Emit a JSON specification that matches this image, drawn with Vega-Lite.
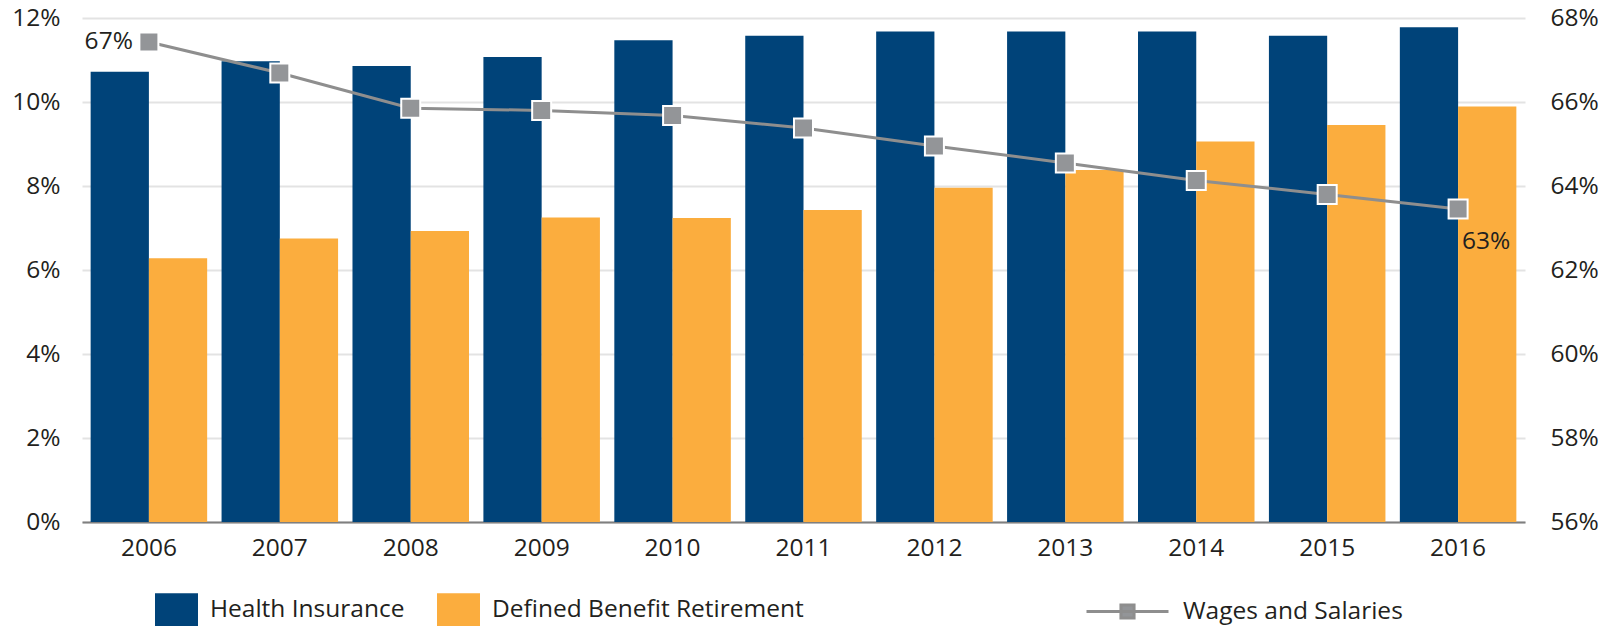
{
  "$schema": "https://vega.github.io/schema/vega-lite/v6.json",
  "width": 1443,
  "height": 504,
  "autosize": {"type": "none"},
  "padding": {"left": 82, "top": 18, "right": 94, "bottom": 104},
  "background": "white",
  "config": {
    "font": "Open Sans",
    "view": {"stroke": null},
    "axis": {"labelFont": "Open Sans", "labelFontSize": 24.5, "labelColor": "#231F20", "title": null}
  },
  "datasets": {
    "bars": [
      {"year": "2006", "series": "Health Insurance", "value": 10.72},
      {"year": "2006", "series": "Defined Benefit Retirement", "value": 6.28},
      {"year": "2007", "series": "Health Insurance", "value": 10.97},
      {"year": "2007", "series": "Defined Benefit Retirement", "value": 6.75},
      {"year": "2008", "series": "Health Insurance", "value": 10.86},
      {"year": "2008", "series": "Defined Benefit Retirement", "value": 6.93},
      {"year": "2009", "series": "Health Insurance", "value": 11.07},
      {"year": "2009", "series": "Defined Benefit Retirement", "value": 7.25},
      {"year": "2010", "series": "Health Insurance", "value": 11.47},
      {"year": "2010", "series": "Defined Benefit Retirement", "value": 7.24},
      {"year": "2011", "series": "Health Insurance", "value": 11.58},
      {"year": "2011", "series": "Defined Benefit Retirement", "value": 7.43},
      {"year": "2012", "series": "Health Insurance", "value": 11.68},
      {"year": "2012", "series": "Defined Benefit Retirement", "value": 7.96},
      {"year": "2013", "series": "Health Insurance", "value": 11.68},
      {"year": "2013", "series": "Defined Benefit Retirement", "value": 8.38},
      {"year": "2014", "series": "Health Insurance", "value": 11.68},
      {"year": "2014", "series": "Defined Benefit Retirement", "value": 9.06},
      {"year": "2015", "series": "Health Insurance", "value": 11.58},
      {"year": "2015", "series": "Defined Benefit Retirement", "value": 9.45},
      {"year": "2016", "series": "Health Insurance", "value": 11.78},
      {"year": "2016", "series": "Defined Benefit Retirement", "value": 9.89}
    ],
    "wages": [
      {"year": "2006", "value": 67.43, "label": "67%"},
      {"year": "2007", "value": 66.69, "label": ""},
      {"year": "2008", "value": 65.85, "label": ""},
      {"year": "2009", "value": 65.8, "label": ""},
      {"year": "2010", "value": 65.68, "label": ""},
      {"year": "2011", "value": 65.38, "label": ""},
      {"year": "2012", "value": 64.95, "label": ""},
      {"year": "2013", "value": 64.55, "label": ""},
      {"year": "2014", "value": 64.13, "label": ""},
      {"year": "2015", "value": 63.8, "label": ""},
      {"year": "2016", "value": 63.45, "label": "63%"}
    ]
  },
  "layer": [
    {
      "data": {"name": "bars"},
      "mark": {"type": "bar"},
      "encoding": {
        "x": {
          "field": "year", "type": "ordinal",
          "scale": {"paddingInner": 0.11, "paddingOuter": 0.066},
          "axis": {"labelAngle": 0, "ticks": false, "domainColor": "#7F7F7F", "domainWidth": 2, "labelPadding": 14, "grid": false}
        },
        "xOffset": {
          "field": "series", "type": "nominal",
          "sort": ["Health Insurance", "Defined Benefit Retirement"],
          "scale": {"paddingInner": 0, "paddingOuter": 0}
        },
        "y": {
          "field": "value", "type": "quantitative",
          "scale": {"domain": [0, 12], "nice": false, "zero": true},
          "axis": {
            "orient": "left", "values": [0, 2, 4, 6, 8, 10, 12],
            "labelExpr": "datum.value + '%'",
            "domain": false, "ticks": false, "grid": true,
            "gridColor": "#E3E3E3", "gridWidth": 2, "labelPadding": 22
          }
        },
        "fill": {
          "field": "series", "type": "nominal",
          "scale": {"domain": ["Health Insurance", "Defined Benefit Retirement"], "range": ["#004379", "#FBAD3E"]},
          "legend": {
            "title": null, "orient": "none", "direction": "horizontal",
            "legendX": 73, "legendY": 570.5,
            "symbolType": "M-1,-0.8H1V1.2H-1Z", "symbolSize": 1849,
            "symbolStrokeWidth": 0, "symbolOpacity": 1,
            "labelFont": "Open Sans", "labelFontSize": 24.5, "labelColor": "#231F20",
            "labelOffset": 12, "columnPadding": 32, "labelLimit": 500
          }
        }
      }
    },
    {
      "data": {"name": "wages"},
      "encoding": {
        "x": {"field": "year", "type": "ordinal"},
        "y": {
          "field": "value", "type": "quantitative",
          "scale": {"domain": [56, 68], "nice": false, "zero": false},
          "axis": {
            "orient": "right", "values": [56, 58, 60, 62, 64, 66, 68],
            "labelExpr": "datum.value + '%'",
            "domain": false, "ticks": false, "grid": false, "labelPadding": 25
          }
        }
      },
      "layer": [
        {
          "mark": {"type": "line", "strokeWidth": 3},
          "encoding": {
            "stroke": {
              "datum": "Wages and Salaries",
              "scale": {"range": ["#8E8E8E"]},
              "legend": {
                "title": null, "orient": "none", "direction": "horizontal",
                "legendX": 1003, "legendY": 551,
                "symbolType": "M-1,0H1M-0.16,-0.16H0.16V0.16H-0.16Z", "symbolSize": 6724,
                "symbolStrokeWidth": 3, "symbolFillColor": "#939598", "symbolStrokeColor": "#939598",
                "labelFont": "Open Sans", "labelFontSize": 24.5, "labelColor": "#231F20",
                "labelOffset": 13, "labelLimit": 500,
                "encode": {"symbols": {"update": {"fill": {"value": "#939598"}, "stroke": {"value": "#939598"}}}}
              }
            }
          }
        },
        {
          "mark": {"type": "point", "shape": "square", "size": 361, "filled": true, "fill": "#939598", "stroke": "white", "strokeWidth": 2, "opacity": 1}
        },
        {
          "transform": [{"filter": "datum.year == '2006'"}],
          "mark": {"type": "text", "align": "right", "baseline": "middle", "dx": -16, "fontSize": 24.5, "color": "#231F20", "font": "Open Sans"},
          "encoding": {"text": {"field": "label"}}
        },
        {
          "transform": [{"filter": "datum.year == '2016'"}],
          "mark": {"type": "text", "align": "left", "baseline": "middle", "dx": 4, "dy": 33, "fontSize": 24.5, "color": "#231F20", "font": "Open Sans"},
          "encoding": {"text": {"field": "label"}}
        }
      ]
    }
  ],
  "resolve": {"scale": {"y": "independent"}}
}
